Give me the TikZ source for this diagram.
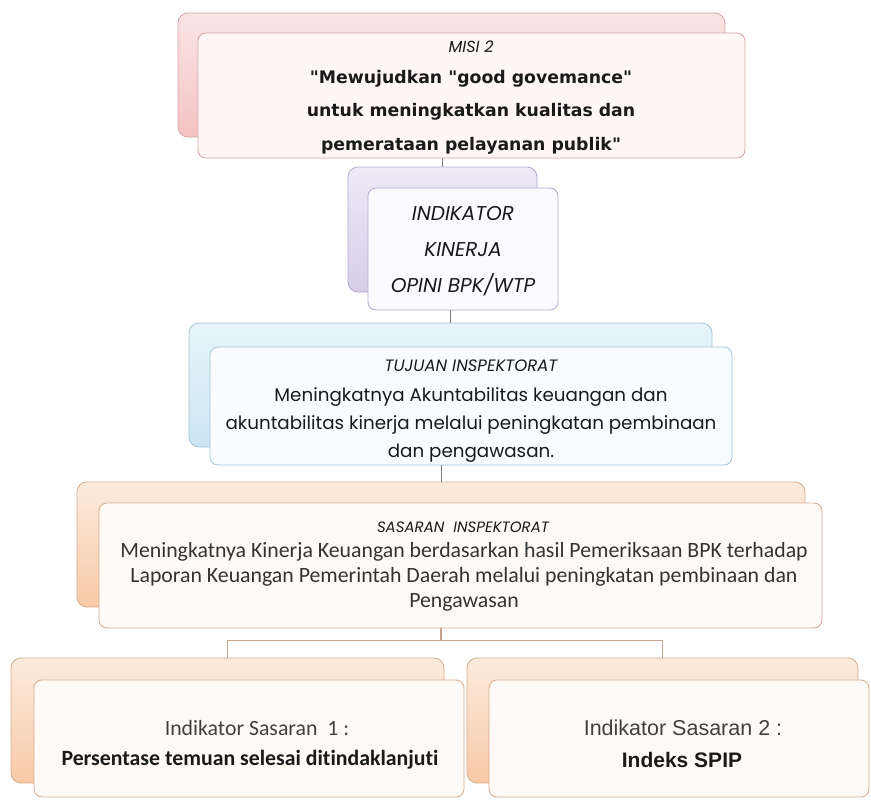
\documentclass[tikz,border=0pt]{standalone}
\usepackage{fontspec}
\usepackage{xcolor}
\usetikzlibrary{positioning, fit, calc}
\setmainfont{Carlito}[Ligatures=NoCommon]
\newfontfamily\comicfont{Poppins}
\newfontfamily\misifont{DejaVu Sans}
\newfontfamily\arialfont{Liberation Sans}
% box colours per level
\definecolor{misitop}{HTML}{FBE4E4}
\definecolor{misibot}{HTML}{F4C3C3}
\definecolor{misiborder}{HTML}{D3A6A6}
\definecolor{misifront}{HTML}{FFF6F6}
\definecolor{indtop}{HTML}{EEEAF7}
\definecolor{indbot}{HTML}{D6CEEA}
\definecolor{indborder}{HTML}{B3A9CF}
\definecolor{indfront}{HTML}{FBFAFE}
\definecolor{tujtop}{HTML}{E7F5FB}
\definecolor{tujbot}{HTML}{CAE6F2}
\definecolor{tujborder}{HTML}{A3C7D8}
\definecolor{tujfront}{HTML}{F8FCFE}
\definecolor{sastop}{HTML}{FDEBDD}
\definecolor{sasbot}{HTML}{F8C9A6}
\definecolor{sasborder}{HTML}{D4AC8F}
\definecolor{sasfront}{HTML}{FFFAF6}
\definecolor{linkgray}{HTML}{7F7F7F}
\definecolor{linktan}{HTML}{C8A48A}
\definecolor{ink}{HTML}{1A1A1A}

\tikzset{
  backbox/.style={rounded corners=10pt, draw=#1border, top color=#1top, bottom color=#1bot,
    line width=0.8pt, inner sep=0pt},
  frontbox/.style={rounded corners=8pt, draw=#1border, fill=#1front, line width=0.8pt, inner sep=0pt},
  link/.style={draw=linkgray, line width=1pt},
  forklink/.style={draw=linktan, line width=1.5pt},
  boxtext/.style={align=center, text=ink, inner sep=0pt}
}

\begin{document}
\begin{tikzpicture}[x=1pt, y=-1pt]
  \fill[white] (0,0) rectangle (871,800);
  \useasboundingbox (0,0) rectangle (871,800);

  % misi
  \node[backbox=misi, fit={(178,13) (725,137)}] (misiback) {};
  \node[frontbox=misi, fit={(198,33) (745,158)}] (misi) {};
  \node[boxtext, font=\comicfont\itshape\fontsize{16}{18}\selectfont] (misihead) at (471,47) {MISI 2};
  \node[boxtext, font=\misifont\bfseries\fontsize{17.3}{33.5}\selectfont] (misitext) at (471,112)
    {"Mewujudkan "good govemance"\\untuk meningkatkan kualitas dan\\pemerataan pelayanan publik"};

  % indikator kinerja
  \node[backbox=ind, fit={(348,167) (537,292)}] (indback) {};
  \node[frontbox=ind, fit={(368,188) (558,310)}] (ind) {};
  \node[boxtext, font=\comicfont\itshape\fontsize{20}{36}\selectfont] (indtext) at (463,251)
    {INDIKATOR\\KINERJA\\OPINI BPK/WTP};

  % tujuan
  \node[backbox=tuj, fit={(189,323) (712,447)}] (tujback) {};
  \node[frontbox=tuj, fit={(210,347) (732,465)}] (tuj) {};
  \node[boxtext, font=\comicfont\itshape\fontsize{16.5}{18}\selectfont] (tujhead) at (471,366) {TUJUAN INSPEKTORAT};
  \node[boxtext, font=\comicfont\fontsize{18.3}{28}\selectfont] (tujtext) at (471,425)
    {Meningkatnya Akuntabilitas keuangan dan\\akuntabilitas kinerja melalui peningkatan pembinaan\\dan pengawasan.};

  % sasaran
  \node[backbox=sas, fit={(77,482) (805,607)}] (sasback) {};
  \node[frontbox=sas, fit={(99,503) (822,628)}] (sas) {};
  \node[boxtext, font=\comicfont\itshape\fontsize{15}{17}\selectfont] (sashead) at (463,527) {SASARAN\ \ INSPEKTORAT};
  \node[boxtext, font=\fontsize{21.8}{25}\selectfont, text=black!80] (sastext) at (464,577)
    {Meningkatnya Kinerja Keuangan berdasarkan hasil Pemeriksaan BPK terhadap\\Laporan Keuangan Pemerintah Daerah melalui peningkatan pembinaan dan\\Pengawasan};

  % indikator sasaran
  \node[backbox=sas, fit={(11,658) (444,783)}] (leftback) {};
  \node[frontbox=sas, fit={(34,680) (464,797)}] (left) {};
  \node[boxtext, font=\fontsize{21.8}{24}\selectfont, text=black!75] (lefthead) at (257,728) {Indikator Sasaran\ \ 1 :};
  \node[boxtext, font=\bfseries\fontsize{21.8}{24}\selectfont] (lefttext) at (250,760) {Persentase temuan selesai ditindaklanjuti};

  \node[backbox=sas, fit={(467,658) (858,783)}] (rightback) {};
  \node[frontbox=sas, fit={(489,680) (869,797)}] (right) {};
  \node[boxtext, font=\arialfont\fontsize{21.5}{24}\selectfont, text=black!75] (righthead) at (683,728) {Indikator Sasaran 2 :};
  \node[boxtext, font=\arialfont\bfseries\fontsize{21}{24}\selectfont] (righttext) at (682,760) {Indeks SPIP};

  % connectors
  \draw[link] (indback.north) -- (indback.north |- misi.south);
  \draw[link] (tujback.north) -- (tujback.north |- ind.south);
  \draw[link] (sasback.north) -- (sasback.north |- tuj.south);
  \coordinate (fork) at ($(sas.south -| sasback.north)+(0,12)$);
  \draw[forklink] (sas.south -| sasback.north) -- (fork);
  \draw[forklink] (leftback.north) |- (fork) -| (rightback.north);
\end{tikzpicture}
\end{document}
